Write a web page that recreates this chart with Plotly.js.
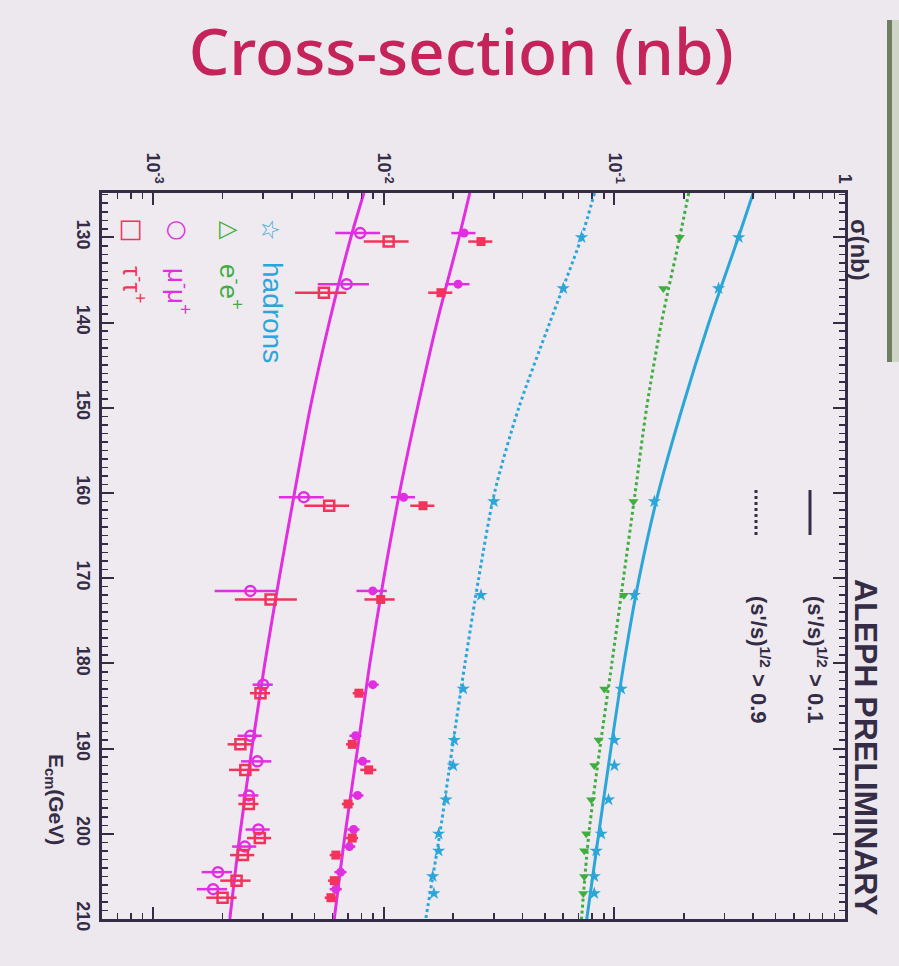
<!DOCTYPE html>
<html>
<head>
<meta charset="utf-8">
<script src="https://cdn.plot.ly/plotly-3.0.1.min.js"></script>
<style>html,body{margin:0;padding:0;background:#ece8ee;}</style>
</head>
<body>
<div id="chart" style="width:899px;height:966px;"></div>
<script>
// ---------- data ----------
const energies = [130, 136, 161, 172, 183, 189, 192, 196, 200, 202, 205, 207];
const muEnergies = [129.5, 135.5, 160.5, 171.5, 182.5, 188.5, 191.5, 195.5, 199.5, 201.5, 204.5, 206.5];
const tauEnergies = [130.5, 136.5, 161.5, 172.5, 183.5, 189.5, 192.5, 196.5, 200.5, 202.5, 205.5, 207.5];

const hadronsIncl = [0.346, 0.283, 0.149, 0.122, 0.107, 0.100, 0.100, 0.0943, 0.0877, 0.0834, 0.0818, 0.0818];
const hadronsExcl = [0.072, 0.060, 0.030, 0.0264, 0.0221, 0.0202, 0.020, 0.0186, 0.0173, 0.0173, 0.0163, 0.0165];
const eePts = [0.192, 0.163, 0.121, 0.110, 0.0905, 0.0854, 0.0818, 0.0794, 0.0755, 0.074, 0.074, 0.0733];
const mumuIncl = [0.0223, 0.0210, 0.0122, 0.00896, 0.00896, 0.00755, 0.0081, 0.0077, 0.0074, 0.0071, 0.0065, 0.0062];
const tautauIncl = [0.0264, 0.0177, 0.0148, 0.0097, 0.0078, 0.0073, 0.0086, 0.0070, 0.0073, 0.0062, 0.0061, 0.0059];
const mumuExcl = [0.0079, 0.0069, 0.0045, 0.00264, 0.0030, 0.00264, 0.00283, 0.0026, 0.00286, 0.0025, 0.00191, 0.00182];
const tautauExcl = [0.0105, 0.0055, 0.0058, 0.00323, 0.00292, 0.00239, 0.00251, 0.0026, 0.0029, 0.00245, 0.0023, 0.0020];

const relErrIncl = [0.12, 0.12, 0.12, 0.15, 0.06, 0.06, 0.08, 0.06, 0.06, 0.06, 0.06, 0.06];
const relErrExcl = [0.22, 0.25, 0.22, 0.30, 0.10, 0.12, 0.15, 0.10, 0.12, 0.12, 0.15, 0.15];

const curveE = [124.8, 130, 140, 150, 160, 170, 180, 190, 200, 210];
const hadInclCurve = [0.40, 0.345, 0.257, 0.197, 0.155, 0.128, 0.110, 0.0966, 0.0855, 0.0759];
const hadExclCurve = [0.082, 0.072, 0.0525, 0.0385, 0.0302, 0.0258, 0.0225, 0.0198, 0.0175, 0.0152];
const eeCurve = [0.210, 0.192, 0.160, 0.138, 0.123, 0.1095, 0.0975, 0.0865, 0.0775, 0.0720];
const llInclCurve = [0.0236, 0.0212, 0.0170, 0.0140, 0.0117, 0.0100, 0.0087, 0.0077, 0.0068, 0.0061];
const llExclCurve = [0.0082, 0.0072, 0.0058, 0.0048, 0.0041, 0.00352, 0.00305, 0.00268, 0.00238, 0.00215];

const sigmaTicks = [0.001, 0.01, 0.1, 1];
const sigmaTickText = ['10<sup>-3</sup>', '10<sup>-2</sup>', '10<sup>-1</sup>', '1'];
const eTicks = [130, 140, 150, 160, 170, 180, 190, 200, 210];

// ---------- styles ----------
const BLUE = '#2ba6d9', GREEN = '#3fae3f', MAG = '#e12ee0', RED = '#f2345c', INK = '#352c45';

function errs(vals, rel) { return vals.map((v, i) => v * rel[i]); }

const traces = [
  {x: hadInclCurve, y: curveE, mode: 'lines', line: {color: BLUE, width: 3, shape: 'spline', smoothing: 0.8}},
  {x: hadExclCurve, y: curveE, mode: 'lines', line: {color: BLUE, width: 3, dash: 'dot', shape: 'spline', smoothing: 0.8}},
  {x: eeCurve, y: curveE, mode: 'lines', line: {color: GREEN, width: 3, dash: 'dot', shape: 'spline', smoothing: 0.8}},
  {x: llInclCurve, y: curveE, mode: 'lines', line: {color: MAG, width: 3, shape: 'spline', smoothing: 0.8}},
  {x: llExclCurve, y: curveE, mode: 'lines', line: {color: MAG, width: 3, shape: 'spline', smoothing: 0.8}},
  {x: hadronsIncl, y: energies, mode: 'markers', marker: {symbol: 'star', size: 10, color: BLUE}},
  {x: hadronsExcl, y: energies, mode: 'markers', marker: {symbol: 'star', size: 10, color: BLUE}},
  {x: eePts, y: energies, mode: 'markers', marker: {symbol: 'triangle-down', size: 9, color: GREEN}},
  {x: mumuIncl, y: muEnergies, mode: 'markers', marker: {symbol: 'circle', size: 9, color: MAG},
   error_x: {type: 'data', array: errs(mumuIncl, relErrIncl), color: MAG, thickness: 2.5, width: 0}},
  {x: tautauIncl, y: tauEnergies, mode: 'markers', marker: {symbol: 'square', size: 9, color: RED},
   error_x: {type: 'data', array: errs(tautauIncl, relErrIncl), color: RED, thickness: 2.5, width: 0}},
  {x: mumuExcl, y: muEnergies, mode: 'markers', marker: {symbol: 'circle-open', size: 10, color: MAG, line: {width: 2.5}},
   error_x: {type: 'data', array: errs(mumuExcl, relErrExcl), color: MAG, thickness: 2.5, width: 0}},
  {x: tautauExcl, y: tauEnergies, mode: 'markers', marker: {symbol: 'square-open', size: 10, color: RED, line: {width: 2.5}},
   error_x: {type: 'data', array: errs(tautauExcl, relErrExcl), color: RED, thickness: 2.5, width: 0}}
];

// pixel helpers for decorations
const L = 102, R = 845, T = 193, B = 919;
const px = x => (x - L) / (R - L);
const py = y => 1 - (y - T) / (B - T);

const tickFont = {family: 'Liberation Sans, Arial, sans-serif', size: 18, color: INK, weight: 'bold'};

const ann = (x, y, text, size, color, extra) => Object.assign({
  xref: 'paper', yref: 'paper', x: px(x), y: py(y), text: text, showarrow: false,
  textangle: 90, xanchor: 'center', yanchor: 'middle',
  font: {family: 'Liberation Sans, Arial, sans-serif', size: size, color: color, weight: 'bold'}
}, extra || {});

const layout = {
  width: 899, height: 966,
  paper_bgcolor: '#ece8ee', plot_bgcolor: '#eeeaf0',
  margin: {l: L, r: 899 - R, t: T, b: 966 - B},
  showlegend: false,
  title: {text: 'Cross-section (nb)', x: 0.513, xanchor: 'center', y: 0.946, yanchor: 'middle',
          font: {family: 'Noto Sans, sans-serif', size: 64, color: '#c42459', weight: 500}},
  xaxis: {
    type: 'log', range: [Math.log10(6e-4), 0], side: 'top',
    tickmode: 'array', tickvals: sigmaTicks, ticktext: sigmaTickText, tickangle: 90,
    ticks: 'inside', ticklen: 12, tickwidth: 2, tickcolor: INK,
    minor: {dtick: 'D1', ticks: 'inside', ticklen: 6, tickwidth: 1.5, tickcolor: INK, showgrid: false},
    showline: true, linecolor: INK, linewidth: 3, mirror: 'allticks',
    showgrid: false, zeroline: false, tickfont: tickFont
  },
  yaxis: {
    range: [210, 124.8],
    tickmode: 'array', tickvals: eTicks, tickangle: 90,
    ticks: 'inside', ticklen: 12, tickwidth: 2, tickcolor: INK,
    minor: {dtick: 1, tick0: 130, ticks: 'inside', ticklen: 6, tickwidth: 1.5, tickcolor: INK, showgrid: false},
    showline: true, linecolor: INK, linewidth: 3, mirror: 'allticks',
    showgrid: false, zeroline: false, tickfont: tickFont
  },
  annotations: [
    ann(859, 250, 'σ(nb)', 24, INK),
    ann(866, 748, 'ALEPH PRELIMINARY', 30, INK, {font: {family: 'Liberation Sans Narrow, Liberation Sans, sans-serif', size: 32, color: INK, weight: 'bold'}}),
    ann(817, 660, '(s\'/s)<sup>1/2</sup> > 0.1', 22, INK),
    ann(760, 660, '(s\'/s)<sup>1/2</sup> > 0.9', 22, INK),
    ann(55, 800, 'E<sub>cm</sub>(GeV)', 21, INK),
    ann(270, 230, '☆', 24, BLUE, {font: {family: 'DejaVu Sans', size: 24, color: BLUE}}),
    ann(272, 312, 'hadrons', 28, BLUE, {font: {family: 'Liberation Sans, sans-serif', size: 28, color: BLUE}}),
    ann(230, 230, '△', 24, GREEN, {font: {family: 'DejaVu Sans', size: 24, color: GREEN}}),
    ann(231, 287, 'e<sup>-</sup>e<sup>+</sup>', 26, GREEN, {font: {family: 'Liberation Sans, sans-serif', size: 26, color: GREEN}}),
    ann(178, 230, '○', 24, MAG, {font: {family: 'DejaVu Sans', size: 24, color: MAG}}),
    ann(179, 291, 'μ<sup>-</sup>μ<sup>+</sup>', 26, MAG, {font: {family: 'Liberation Sans, sans-serif', size: 26, color: MAG}}),
    ann(133, 230, '□', 26, RED, {font: {family: 'DejaVu Sans', size: 26, color: RED}}),
    ann(134, 284, 'τ<sup>-</sup>τ<sup>+</sup>', 26, RED, {font: {family: 'Liberation Sans, sans-serif', size: 26, color: RED}})
  ],
  shapes: [
    {type: 'line', xref: 'paper', yref: 'paper', x0: px(810), x1: px(810), y0: py(490), y1: py(535), line: {color: INK, width: 3}},
    {type: 'line', xref: 'paper', yref: 'paper', x0: px(756), x1: px(756), y0: py(490), y1: py(535), line: {color: INK, width: 3, dash: 'dot'}},
    {type: 'rect', xref: 'paper', yref: 'paper', x0: px(887), x1: px(892), y0: py(20), y1: py(362), line: {width: 0}, fillcolor: '#6f7d60'},
    {type: 'rect', xref: 'paper', yref: 'paper', x0: px(892), x1: px(899), y0: py(20), y1: py(362), line: {width: 0}, fillcolor: '#cfd5c6'}
  ]
};

Plotly.newPlot('chart', traces, layout, {displayModeBar: false, staticPlot: true});
</script>
</body>
</html>
